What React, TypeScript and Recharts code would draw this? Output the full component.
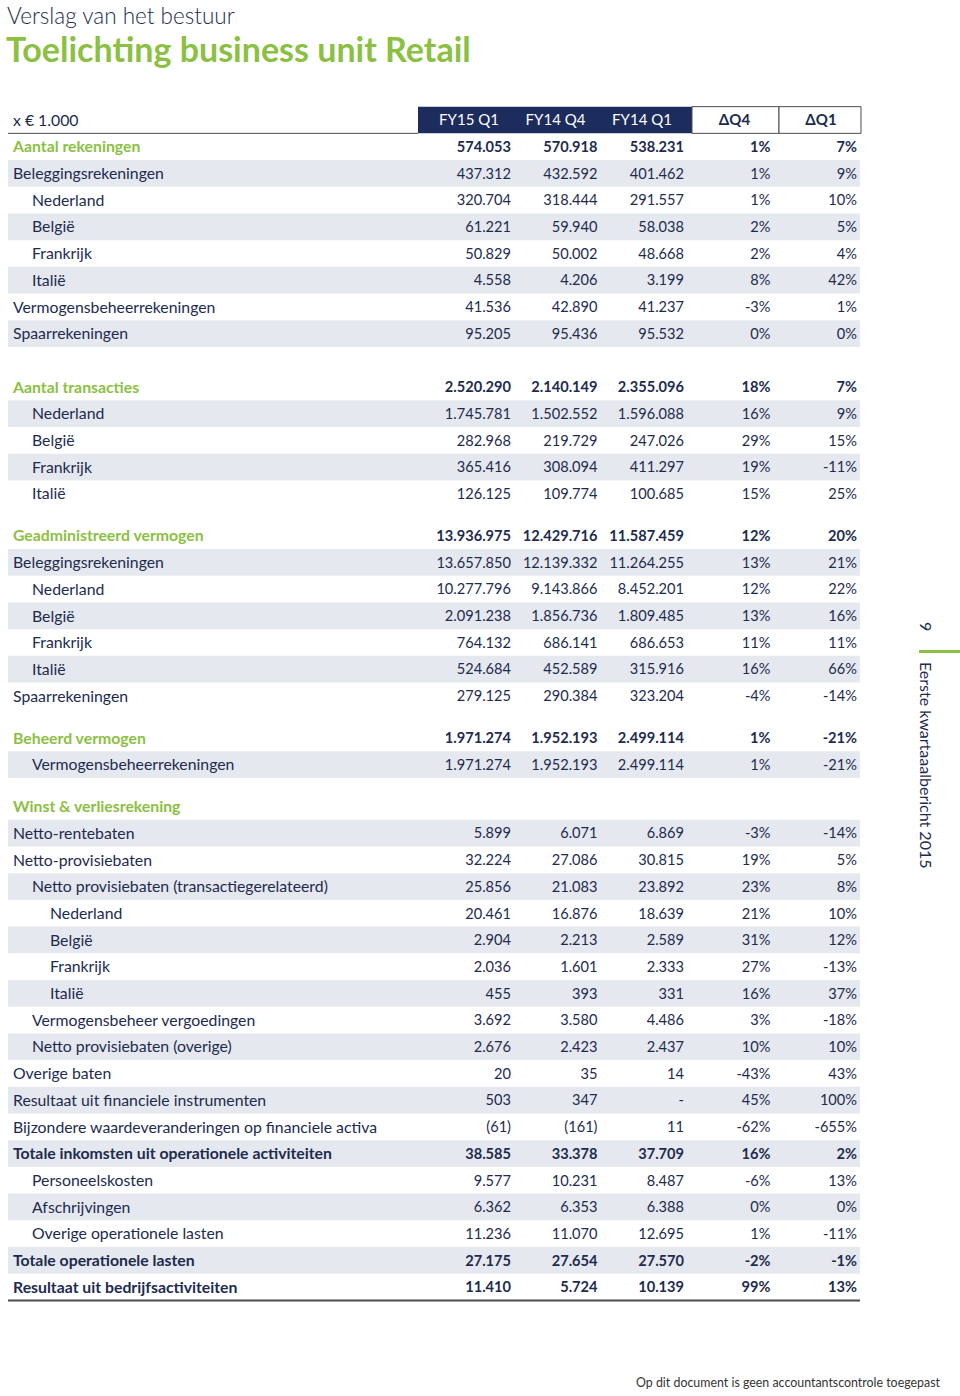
import { ScatterChart, Scatter, XAxis, YAxis, ReferenceArea, ReferenceLine } from "recharts";

// column headers
const columns = ["FY15 Q1", "FY14 Q4", "FY14 Q1", "ΔQ4", "ΔQ1"];
const unitLabel = "x € 1.000";

// row labels and their kind: head = section title, l0/l1/l2 = indent level, total = bold row
const rowLabels = [
  "Aantal rekeningen", "Beleggingsrekeningen", "Nederland", "België", "Frankrijk", "Italië",
  "Vermogensbeheerrekeningen", "Spaarrekeningen",
  "Aantal transacties", "Nederland", "België", "Frankrijk", "Italië",
  "Geadministreerd vermogen", "Beleggingsrekeningen", "Nederland", "België", "Frankrijk", "Italië",
  "Spaarrekeningen",
  "Beheerd vermogen", "Vermogensbeheerrekeningen",
  "Winst & verliesrekening", "Netto-rentebaten", "Netto-provisiebaten",
  "Netto provisiebaten (transactiegerelateerd)", "Nederland", "België", "Frankrijk", "Italië",
  "Vermogensbeheer vergoedingen", "Netto provisiebaten (overige)", "Overige baten",
  "Resultaat uit financiele instrumenten", "Bijzondere waardeveranderingen op financiele activa",
  "Totale inkomsten uit operationele activiteiten", "Personeelskosten", "Afschrijvingen",
  "Overige operationele lasten", "Totale operationele lasten", "Resultaat uit bedrijfsactiviteiten",
];
const rowKinds = [
  "head", "l0", "l1", "l1", "l1", "l1", "l0", "l0",
  "head", "l1", "l1", "l1", "l1",
  "head", "l0", "l1", "l1", "l1", "l1", "l0",
  "head", "l1",
  "head", "l0", "l0", "l1", "l2", "l2", "l2", "l2", "l1", "l1", "l0", "l0", "l0",
  "total", "l1", "l1", "l1", "total", "total",
];

const fy15q1 = [
  "574.053", "437.312", "320.704", "61.221", "50.829", "4.558", "41.536", "95.205",
  "2.520.290", "1.745.781", "282.968", "365.416", "126.125",
  "13.936.975", "13.657.850", "10.277.796", "2.091.238", "764.132", "524.684", "279.125",
  "1.971.274", "1.971.274",
  "", "5.899", "32.224", "25.856", "20.461", "2.904", "2.036", "455", "3.692", "2.676", "20",
  "503", "(61)", "38.585", "9.577", "6.362", "11.236", "27.175", "11.410",
];
const fy14q4 = [
  "570.918", "432.592", "318.444", "59.940", "50.002", "4.206", "42.890", "95.436",
  "2.140.149", "1.502.552", "219.729", "308.094", "109.774",
  "12.429.716", "12.139.332", "9.143.866", "1.856.736", "686.141", "452.589", "290.384",
  "1.952.193", "1.952.193",
  "", "6.071", "27.086", "21.083", "16.876", "2.213", "1.601", "393", "3.580", "2.423", "35",
  "347", "(161)", "33.378", "10.231", "6.353", "11.070", "27.654", "5.724",
];
const fy14q1 = [
  "538.231", "401.462", "291.557", "58.038", "48.668", "3.199", "41.237", "95.532",
  "2.355.096", "1.596.088", "247.026", "411.297", "100.685",
  "11.587.459", "11.264.255", "8.452.201", "1.809.485", "686.653", "315.916", "323.204",
  "2.499.114", "2.499.114",
  "", "6.869", "30.815", "23.892", "18.639", "2.589", "2.333", "331", "4.486", "2.437", "14",
  "-", "11", "37.709", "8.487", "6.388", "12.695", "27.570", "10.139",
];
const deltaQ4 = [
  "1%", "1%", "1%", "2%", "2%", "8%", "-3%", "0%",
  "18%", "16%", "29%", "19%", "15%",
  "12%", "13%", "12%", "13%", "11%", "16%", "-4%",
  "1%", "1%",
  "", "-3%", "19%", "23%", "21%", "31%", "27%", "16%", "3%", "10%", "-43%",
  "45%", "-62%", "16%", "-6%", "0%", "1%", "-2%", "99%",
];
const deltaQ1 = [
  "7%", "9%", "10%", "5%", "4%", "42%", "1%", "0%",
  "7%", "9%", "15%", "-11%", "25%",
  "20%", "21%", "22%", "16%", "11%", "66%", "-14%",
  "-21%", "-21%",
  "", "-14%", "5%", "8%", "10%", "12%", "-13%", "37%", "-18%", "10%", "43%",
  "100%", "-655%", "2%", "13%", "0%", "-11%", "-1%", "13%",
];
const columnValues = [fy15q1, fy14q4, fy14q1, deltaQ4, deltaQ1];

// layout
const W = 960;
const H = 1396;
const ROW_H = 26.7;
const HEADER_Y = 120;
const COL3_X = 684;
const COL_STEP = 86.5;
const SECTION_GAPS = [0, 2, 1.57, 1.57, 1.57];
const INDENT: Record<string, number> = { head: 0, l0: 0, l1: 19, l2: 37, total: 0 };

const NAVY = "#1d2b4f";
const HEAD_NAVY = "#1c2c5c";
const GREEN = "#8bc043";
const STRIPE = "#e5e8ee";
const FONT = "Lato, 'Open Sans', sans-serif";

const toX = (px: number) => 3 + (px - COL3_X) / COL_STEP;
const X_DOMAIN = [toX(0), toX(W)];
const Y_DOMAIN = [-HEADER_Y / ROW_H, (H - HEADER_Y) / ROW_H];
const TABLE_L = toX(8);
const TABLE_R = toX(860);
const LABEL_X = toX(13);

let slot = 0;
let sec = -1;
let idx = 0;
const rows = rowLabels.map((label, i) => {
  const kind = rowKinds[i];
  if (kind === "head") {
    sec += 1;
    slot += sec === 0 ? 1 : SECTION_GAPS[sec];
    idx = 0;
  } else {
    slot += 1;
    idx += 1;
  }
  return { label, kind, slot, striped: idx % 2 === 1, i };
});

const labelData = [
  { x: LABEL_X, y: 0, text: unitLabel, kind: "unit" },
  ...rows.map((r) => ({ x: LABEL_X, y: r.slot, text: r.label, kind: r.kind })),
];
const headerData = columns.map((c, i) => ({ x: i + 1, y: 0, text: c, col: i }));
const valueData = columnValues.flatMap((vals, c) =>
  rows
    .filter((r) => vals[r.i] !== "")
    .map((r) => ({ x: c + 1, y: r.slot, text: vals[r.i], kind: r.kind }))
);
const lastSlot = rows[rows.length - 1].slot;

function LabelShape(props: any) {
  const { cx, cy, payload } = props;
  const k = payload.kind;
  return (
    <text
      x={cx + (INDENT[k] || 0)}
      y={cy}
      dy="0.36em"
      fontSize={15.8}
      fill={k === "head" ? GREEN : NAVY}
      fontWeight={k === "head" || k === "total" ? 700 : 400}
    >
      {payload.text}
    </text>
  );
}

function ValueShape(props: any) {
  const { cx, cy, payload } = props;
  const bold = payload.kind === "head" || payload.kind === "total";
  return (
    <text x={cx} y={cy} dy="0.36em" textAnchor="end" fontSize={14.6} fill={NAVY} fontWeight={bold ? 700 : 400}>
      {payload.text}
    </text>
  );
}

function HeaderShape(props: any) {
  const { cx, cy, payload } = props;
  const delta = payload.col > 2;
  return (
    <text
      x={cx - (delta ? 36 : 42)}
      y={cy}
      dy="0.36em"
      textAnchor="middle"
      fontSize={15}
      fill={delta ? NAVY : "#ffffff"}
      fontWeight={delta ? 700 : 400}
    >
      {payload.text}
    </text>
  );
}

export default function App() {
  return (
    <div style={{ position: "relative", width: W, height: H, fontFamily: FONT, background: "#fff" }}>
      <style>{`body{margin:0}`}</style>
      <div style={{ position: "absolute", left: 7, top: 2, fontSize: 22.5, color: NAVY, fontWeight: 300 }}>
        Verslag van het bestuur
      </div>
      <div style={{ position: "absolute", left: 6, top: 28, fontSize: 34, color: GREEN, fontWeight: 700 }}>
        Toelichting business unit Retail
      </div>

      <ScatterChart width={W} height={H} margin={{ top: 0, right: 0, bottom: 0, left: 0 }}>
        <XAxis type="number" dataKey="x" hide domain={X_DOMAIN} allowDataOverflow />
        <YAxis type="number" dataKey="y" hide reversed domain={Y_DOMAIN} allowDataOverflow />

        {rows
          .filter((r) => r.striped)
          .map((r) => (
            <ReferenceArea
              key={"s" + r.i}
              x1={TABLE_L}
              x2={TABLE_R}
              y1={r.slot - 0.5}
              y2={r.slot + 0.5}
              fill={STRIPE}
              fillOpacity={1}
              stroke="none"
            />
          ))}

        <ReferenceArea x1={toX(418)} x2={toX(692)} y1={-0.5} y2={0.5} fill={HEAD_NAVY} fillOpacity={1} stroke="none" />
        <ReferenceArea x1={toX(692)} x2={toX(779)} y1={-0.5} y2={0.5} fill="#fff" fillOpacity={1} stroke="#4d4d4d" strokeWidth={1} />
        <ReferenceArea x1={toX(779)} x2={toX(861)} y1={-0.5} y2={0.5} fill="#fff" fillOpacity={1} stroke="#4d4d4d" strokeWidth={1} />
        <ReferenceLine
          segment={[{ x: TABLE_L, y: 0.5 }, { x: toX(418), y: 0.5 }]}
          stroke="#4d4d4d"
          strokeWidth={1}
        />
        <ReferenceLine
          segment={[{ x: TABLE_L, y: lastSlot + 0.5 }, { x: TABLE_R, y: lastSlot + 0.5 }]}
          stroke="#4d4d4d"
          strokeWidth={2}
        />

        <Scatter data={labelData} shape={<LabelShape />} isAnimationActive={false} />
        <Scatter data={headerData} shape={<HeaderShape />} isAnimationActive={false} />
        <Scatter data={valueData} shape={<ValueShape />} isAnimationActive={false} />
      </ScatterChart>

      <div
        style={{
          position: "absolute",
          left: 936,
          top: 622,
          fontSize: 16,
          color: NAVY,
          transform: "rotate(90deg)",
          transformOrigin: "left top",
          whiteSpace: "nowrap",
        }}
      >
        9
      </div>
      <div style={{ position: "absolute", left: 919, top: 650, width: 41, height: 3, background: GREEN }} />
      <div
        style={{
          position: "absolute",
          left: 936,
          top: 662,
          fontSize: 16,
          color: NAVY,
          transform: "rotate(90deg)",
          transformOrigin: "left top",
          whiteSpace: "nowrap",
        }}
      >
        Eerste kwartaaalbericht 2015
      </div>
      <div style={{ position: "absolute", left: 636, top: 1375, fontSize: 12.4, color: "#333", whiteSpace: "nowrap" }}>
        Op dit document is geen accountantscontrole toegepast
      </div>
    </div>
  );
}
